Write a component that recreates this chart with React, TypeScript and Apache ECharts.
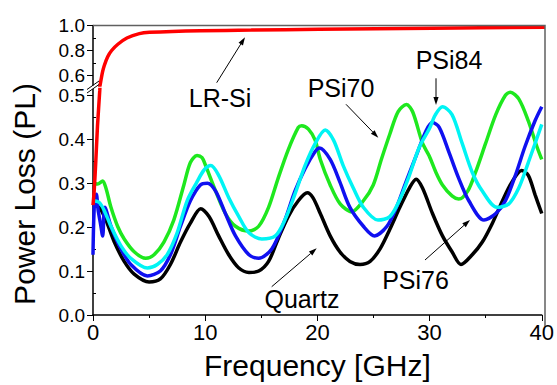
import React, { useEffect, useRef } from "react";
import * as echarts from "echarts";

// ---- data (GHz, power loss) ----
const xTicks = [0, 10, 20, 30, 40];
const yLowTicks = [0, 0.1, 0.2, 0.3, 0.4, 0.5];
const yLowMinor = [0.05, 0.15, 0.25, 0.35, 0.45];
const yHighTicks = [0.6, 0.8, 1.0];
const yHighMinor = [0.7, 0.9];

const lrSi: [number, number][] = [
  [0, 0.25], [0.1, 0.28], [0.25, 0.35], [0.4, 0.43], [0.6, 0.51], [0.72, 0.57], [0.85, 0.63],
  [1.0, 0.68], [1.3, 0.75], [1.65, 0.8], [2.2, 0.85], [3.0, 0.9], [4.1, 0.935], [5.0, 0.945],
  [9.5, 0.958], [14, 0.963], [20, 0.97], [30, 0.978], [40, 0.986],
];

const quartz: [number, number][] = [
  [0, 0.25], [0.56, 0.245], [1.15, 0.216], [1.9, 0.166], [2.78, 0.122], [3.67, 0.093], [5.0, 0.075],
  [6.0, 0.082], [6.9, 0.115], [7.8, 0.166], [8.68, 0.209], [9.6, 0.242], [10.34, 0.224], [11.2, 0.18],
  [12.1, 0.137], [13.0, 0.107], [13.9, 0.097], [14.77, 0.1], [15.65, 0.122], [16.5, 0.173], [17.4, 0.224],
  [18.3, 0.26], [19.1, 0.278], [19.6, 0.267], [20.26, 0.231], [21.14, 0.18], [22.0, 0.144], [22.9, 0.122],
  [23.8, 0.115], [24.7, 0.122], [25.6, 0.151], [26.46, 0.195], [27.35, 0.245], [28.2, 0.289], [28.8, 0.309],
  [29.37, 0.289], [30.26, 0.231], [31.15, 0.18], [32.0, 0.144], [32.8, 0.115], [33.8, 0.137], [34.7, 0.166],
  [35.6, 0.209], [36.5, 0.26], [37.35, 0.303], [38.2, 0.329], [38.8, 0.318], [39.4, 0.274], [40, 0.231],
];

const psi76: [number, number][] = [
  [0, 0.137], [0.12, 0.25], [0.3, 0.275], [0.45, 0.24], [0.66, 0.209], [0.86, 0.18], [1.06, 0.245],
  [1.6, 0.202], [2.48, 0.151], [3.37, 0.115], [4.85, 0.089], [6.0, 0.1], [6.9, 0.137], [7.8, 0.202],
  [8.68, 0.26], [9.57, 0.296], [10.2, 0.3], [10.93, 0.282], [11.8, 0.231], [12.7, 0.18], [13.9, 0.137],
  [14.77, 0.129], [15.95, 0.151], [17.1, 0.216], [18.0, 0.282], [18.9, 0.333], [19.8, 0.372], [20.2, 0.38],
  [21.14, 0.354], [22.0, 0.303], [22.9, 0.245], [24.1, 0.202], [25.1, 0.18], [26.2, 0.202], [27.05, 0.245],
  [27.9, 0.303], [28.8, 0.362], [29.7, 0.42], [30.26, 0.438], [30.86, 0.427], [31.75, 0.369], [32.6, 0.311],
  [33.5, 0.26], [34.85, 0.216], [35.9, 0.231], [36.76, 0.26], [37.65, 0.318], [38.5, 0.383], [39.4, 0.442],
  [40, 0.474],
];

const psi84: [number, number][] = [
  [0, 0.26], [0.56, 0.256], [1.0, 0.238], [1.6, 0.202], [2.48, 0.158], [3.37, 0.129], [4.85, 0.107],
  [5.73, 0.115], [6.6, 0.137], [7.5, 0.187], [8.39, 0.26], [9.27, 0.303], [9.9, 0.33], [10.5, 0.34],
  [11.2, 0.318], [12.1, 0.267], [13.0, 0.224], [13.9, 0.187], [15.05, 0.173], [16.25, 0.18], [17.1, 0.216],
  [18.0, 0.275], [18.9, 0.34], [19.8, 0.39], [20.7, 0.421], [21.44, 0.398], [22.3, 0.34], [23.2, 0.289],
  [24.1, 0.245], [25.4, 0.216], [26.46, 0.224], [27.3, 0.26], [28.2, 0.318], [29.1, 0.383], [30.0, 0.425],
  [30.5, 0.455], [31.15, 0.474], [32.0, 0.456], [32.9, 0.391], [33.8, 0.325], [34.7, 0.282], [36.0, 0.245],
  [37.06, 0.253], [37.95, 0.289], [38.8, 0.347], [40, 0.434],
];

const psi70: [number, number][] = [
  [0, 0.3], [0.4, 0.298], [0.86, 0.305], [1.15, 0.289], [1.6, 0.245], [2.19, 0.202], [2.78, 0.173],
  [3.67, 0.144], [4.7, 0.129], [5.44, 0.137], [6.32, 0.166], [7.2, 0.216], [8.1, 0.296], [8.68, 0.347],
  [9.27, 0.363], [9.72, 0.358], [10.04, 0.34], [10.93, 0.282], [11.8, 0.231], [12.7, 0.202], [13.9, 0.191],
  [14.77, 0.202], [15.65, 0.245], [16.5, 0.311], [17.4, 0.376], [18.3, 0.427], [18.6, 0.431], [19.2, 0.423],
  [19.8, 0.398], [20.26, 0.354], [21.14, 0.296], [22.03, 0.253], [23.06, 0.235], [24.1, 0.26], [24.98, 0.296],
  [25.7, 0.354], [26.46, 0.412], [27.2, 0.463], [27.94, 0.479], [28.5, 0.462], [29.37, 0.391], [29.97, 0.362],
  [30.56, 0.325], [31.15, 0.296], [32.0, 0.271], [32.6, 0.264], [33.4, 0.282], [34.1, 0.325], [35.0, 0.391],
  [35.9, 0.456], [36.76, 0.5], [37.2, 0.507], [37.95, 0.492], [38.8, 0.442], [39.57, 0.383], [40, 0.354],
];

const FONT = '"Liberation Sans", Arial, sans-serif';

function arrow(x1: number, y1: number, x2: number, y2: number) {
  const dx = x2 - x1, dy = y2 - y1;
  const len = Math.sqrt(dx * dx + dy * dy);
  const ux = dx / len, uy = dy / len;
  const hl = 8, hw = 2.6;
  const bx = x2 - ux * hl, by = y2 - uy * hl;
  return [
    { type: "line", shape: { x1, y1, x2: bx, y2: by }, style: { stroke: "#000", lineWidth: 1 } },
    {
      type: "polygon",
      shape: { points: [[x2, y2], [bx - uy * hw, by + ux * hw], [bx + uy * hw, by - ux * hw]] },
      style: { fill: "#000" },
    },
  ];
}

function label(text: string, x: number, y: number) {
  return {
    type: "text",
    x,
    y,
    style: {
      text,
      font: `25px ${FONT}`,
      fill: "#000",
      textAlign: "center",
      textVerticalAlign: "middle",
      align: "center",
      verticalAlign: "middle",
    },
  };
}

export default function App() {
  const ref = useRef<HTMLDivElement>(null);
  useEffect(() => {
    if (!ref.current) return;
    const chart = echarts.init(ref.current, undefined, { renderer: "svg" });
    const fmt = (v: number) => v.toFixed(1);
    const lbl = { color: "#000", fontSize: 19, fontFamily: FONT };
    const line = (data: [number, number][], color: string, w: number, grid: number, z: number) => ({
      type: "line",
      data,
      xAxisIndex: grid,
      yAxisIndex: grid,
      symbol: "none",
      showSymbol: false,
      smooth: 0.3,
      clip: true,
      z,
      lineStyle: { color, width: w },
    });
    chart.setOption({
      animation: false,
      backgroundColor: "#fff",
      grid: [
        { left: 93, top: 89.6, width: 452, height: 236.4 },
        { left: 93, top: 25.5, width: 452, height: 59.6 },
      ],
      xAxis: [
        {
          gridIndex: 0,
          type: "value",
          min: 0,
          max: 40,
          interval: 10,
          axisLine: { onZero: false, lineStyle: { color: "#000", width: 1.5 } },
          axisTick: { length: 6, lineStyle: { color: "#000" } },
          minorTick: { show: true, splitNumber: 2, length: 3, lineStyle: { color: "#000" } },
          splitLine: { show: false },
          axisLabel: {
            color: "#000",
            fontFamily: FONT,
            fontSize: 22,
            margin: 6,
            customValues: xTicks,
            formatter: (v: number) => String(v),
          },
          name: "Frequency [GHz]",
          nameLocation: "middle",
          nameGap: 35,
          nameTextStyle: { color: "#000", fontSize: 30, fontFamily: FONT },
        },
        { gridIndex: 1, type: "value", min: 0, max: 40, show: false },
      ],
      yAxis: [
        {
          gridIndex: 0,
          type: "value",
          min: 0,
          max: 0.513,
          axisLine: { show: true, onZero: false, lineStyle: { color: "#000", width: 1.5 } },
          axisTick: { show: true, length: 6, customValues: yLowTicks, lineStyle: { color: "#000" } },
          axisLabel: { ...lbl, margin: 8, customValues: yLowTicks, formatter: fmt },
          splitLine: { show: false },
        },
        {
          gridIndex: 1,
          type: "value",
          min: 0.523,
          max: 1.0,
          axisLine: { show: true, onZero: false, lineStyle: { color: "#000", width: 1.5 } },
          axisTick: { show: true, length: 6, customValues: yHighTicks, lineStyle: { color: "#000" } },
          axisLabel: { ...lbl, margin: 8, customValues: yHighTicks, formatter: fmt },
          splitLine: { show: false },
        },
        {
          gridIndex: 0,
          type: "value",
          min: 0,
          max: 0.513,
          axisLine: { show: false },
          axisTick: { show: true, length: 3, customValues: yLowMinor, lineStyle: { color: "#000" } },
          axisLabel: { show: false },
          splitLine: { show: false },
        },
        {
          gridIndex: 1,
          type: "value",
          min: 0.523,
          max: 1.0,
          axisLine: { show: false },
          axisTick: { show: true, length: 3, customValues: yHighMinor, lineStyle: { color: "#000" } },
          axisLabel: { show: false },
          splitLine: { show: false },
        },
      ],
      series: [
        line(quartz, "#000000", 3.5, 0, 2),
        line(psi70, "#1ee81e", 3.5, 0, 3),
        line(psi76, "#1010f0", 3.5, 0, 4),
        line(psi84, "#00f4f4", 3.5, 0, 5),
        line(lrSi, "#ff0000", 3.5, 0, 6),
        line(lrSi, "#ff0000", 3.5, 1, 6),
      ],
      graphic: [
        {
          type: "polyline",
          shape: { points: [[93, 25.5], [545, 25.5], [545, 326]] },
          style: { stroke: "#606060", lineWidth: 1.5, fill: null },
          z: 10,
        },
        { type: "line", shape: { x1: 87, y1: 89.5, x2: 99, y2: 81 }, style: { stroke: "#000", lineWidth: 1 }, z: 10 },
        { type: "line", shape: { x1: 87, y1: 93, x2: 99, y2: 84.5 }, style: { stroke: "#000", lineWidth: 1 }, z: 10 },
        {
          type: "text",
          x: 24,
          y: 194,
          rotation: Math.PI / 2,
          style: {
            text: "Power Loss (PL)",
            font: `30px ${FONT}`,
            fill: "#000",
            textAlign: "center",
            textVerticalAlign: "middle",
            align: "center",
            verticalAlign: "middle",
          },
        },
        label("LR-Si", 220, 98),
        label("PSi70", 341, 88),
        label("PSi84", 449, 60),
        label("Quartz", 302, 299),
        label("PSi76", 415.5, 280),
        ...arrow(216.7, 82.7, 245, 37.3),
        ...arrow(346, 104.3, 378.3, 137.7),
        ...arrow(436, 78.3, 436, 105),
        ...arrow(271.7, 286.7, 316.7, 248.3),
        ...arrow(425, 260, 470, 220),
      ],
    });
    return () => chart.dispose();
  }, []);
  return (
    <div
      ref={ref}
      style={{ position: "fixed", left: 0, top: 0, width: 557, height: 385, background: "#fff" }}
    />
  );
}
